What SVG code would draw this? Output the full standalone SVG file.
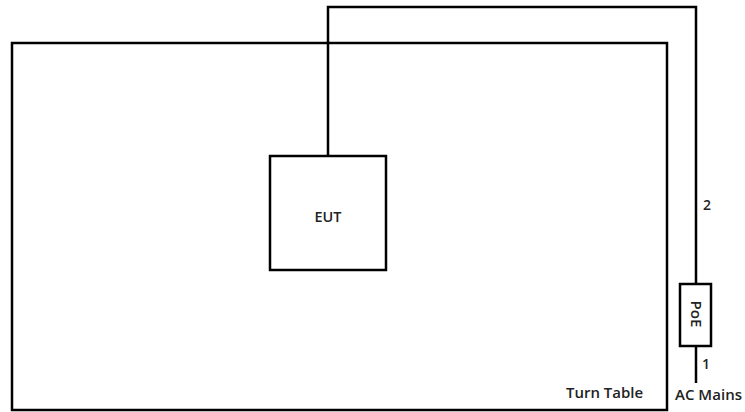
<svg xmlns="http://www.w3.org/2000/svg" width="745" height="412" viewBox="0 0 745 412">
<style>
.box{fill:none;stroke:#000;stroke-width:2.5}
.wire{fill:none;stroke:#000;stroke-width:2.5}
text{font-family:"Open Sans","DejaVu Sans",sans-serif;fill:#222;font-size:14px;font-weight:600}
</style>
<rect width="745" height="412" fill="#fff"/>
<g id="turntable">
<rect class="box" x="12" y="43" width="655" height="367"/>
<text x="566" y="398" textLength="77" lengthAdjust="spacingAndGlyphs">Turn Table</text>
</g>
<g id="connectors">
<polyline class="wire" points="328,156 328,7 696,7 696,284"/>
<line class="wire" x1="696" y1="346" x2="696" y2="383"/>
<text x="703" y="210">2</text>
<text x="702" y="369">1</text>
</g>
<g id="eut">
<rect class="box" x="270" y="156" width="116" height="114"/>
<text x="328" y="222" text-anchor="middle" textLength="27" lengthAdjust="spacingAndGlyphs">EUT</text>
</g>
<g id="poe">
<rect class="box" x="680" y="284" width="31" height="62"/>
<text x="696" y="314" text-anchor="middle" dominant-baseline="central" font-size="12" textLength="27" lengthAdjust="spacingAndGlyphs" transform="rotate(90 696 314)">PoE</text>
</g>
<g id="acmains">
<text x="675" y="400" textLength="67" lengthAdjust="spacingAndGlyphs">AC Mains</text>
</g>
</svg>
